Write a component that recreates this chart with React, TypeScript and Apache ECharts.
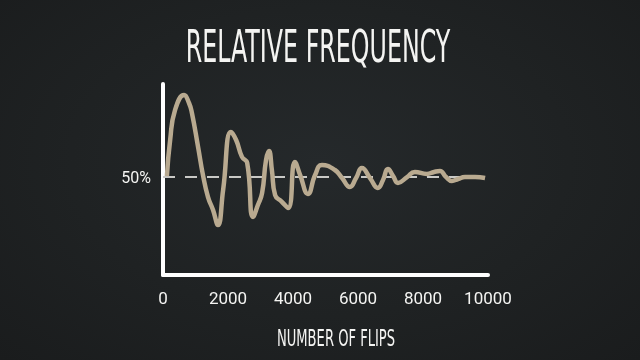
import React, { useEffect, useRef } from "react";
import * as echarts from "echarts";

const flips = [120, 220, 370, 650, 800, 890, 1080, 1230, 1385, 1540, 1690, 1850, 2090, 2250, 2430, 2590, 2770, 2920, 3050, 3170, 3260, 3350, 3450, 3650, 3850, 4060, 4220, 4460, 4680, 4890, 5290, 5510, 5750, 5940, 6120, 6370, 6610, 6770, 6920, 7080, 7230, 7510, 7750, 8120, 8340, 8520, 8710, 8890, 9080, 9290, 9600, 9910];
const relFreq = [50.5, 68.9, 84.2, 91.9, 87.8, 82.7, 65.3, 51.0, 39.8, 33.2, 25.5, 43.4, 73.0, 68.9, 60.3, 57.2, 29.6, 35.7, 41.9, 58.7, 63.3, 53.6, 40.8, 37.5, 34.2, 57.7, 51.0, 41.4, 51.0, 56.2, 53.6, 49.5, 44.9, 49.5, 54.6, 49.5, 44.4, 48.5, 54.1, 50.5, 47.0, 50.0, 52.6, 51.6, 52.6, 53.1, 50.0, 48.0, 49.0, 50.0, 50.0, 49.5];
const xTicks = [0, 2000, 4000, 6000, 8000, 10000];
const refLevel = 50;
const titleText = "RELATIVE FREQUENCY";
const xName = "NUMBER OF FLIPS";

const FONT = "'DejaVu Sans', sans-serif";
const TXT = "#f4f4f2";

export default function App() {
  const ref = useRef<HTMLDivElement>(null);
  useEffect(() => {
    if (!ref.current) return;
    const chart = echarts.init(ref.current, null, { renderer: "svg" });
    chart.setOption({
      animation: false,
      backgroundColor: "transparent",
      graphic: [
        {
          type: "text",
          x: 318,
          y: 46,
          scaleX: 0.54,
          style: {
            text: titleText,
            fill: TXT,
            font: `normal 44px ${FONT}`,
            textAlign: "center",
            textVerticalAlign: "middle",
          },
        },
        {
          type: "text",
          x: 336,
          y: 338,
          scaleX: 0.57,
          style: {
            text: xName,
            fill: TXT,
            font: `normal 23px ${FONT}`,
            textAlign: "center",
            textVerticalAlign: "middle",
          },
        },
      ],
      grid: { left: 163, right: 152, top: 84, bottom: 85 },
      xAxis: {
        type: "value",
        min: 0,
        max: 10000,
        interval: 2000,
        axisLine: { show: true, lineStyle: { color: "#ffffff", width: 4 } },
        axisTick: { show: false },
        splitLine: { show: false },
        axisLabel: {
          color: TXT,
          fontSize: 17,
          fontFamily: "Roboto, sans-serif",
          margin: 14,
          customValues: xTicks,
          formatter: (v: number) => String(v),
        },
      },
      yAxis: {
        type: "value",
        min: 0,
        max: 97.5,
        axisLine: { show: true, lineStyle: { color: "#ffffff", width: 4 } },
        axisTick: { show: false },
        splitLine: { show: false },
        axisLabel: { show: false },
      },
      series: [
        {
          type: "line",
          data: flips.map((f, i) => [f, relFreq[i]]),
          smooth: 0.5,
          symbol: "none",
          lineStyle: { color: "#b9aa90", width: 4.5 },
          z: 3,
          markLine: {
            silent: true,
            symbol: "none",
            z: 2,
            lineStyle: { color: "#c9c9c6", type: [12, 10], width: 2 },
            label: {
              show: true,
              position: "start",
              formatter: "50%",
              color: TXT,
              fontSize: 16,
              fontFamily: "Roboto, sans-serif",
              distance: 12,
            },
            data: [{ yAxis: refLevel }],
          },
        },
      ],
    });
    return () => chart.dispose();
  }, []);
  return (
    <div
      style={{
        position: "fixed",
        left: 0,
        top: 0,
        width: 640,
        height: 360,
        background: "radial-gradient(ellipse at 50% 45%, #25292b 0%, #1f2223 55%, #1a1c1d 100%)",
      }}
    >
      <div ref={ref} style={{ width: 640, height: 360 }} />
    </div>
  );
}
